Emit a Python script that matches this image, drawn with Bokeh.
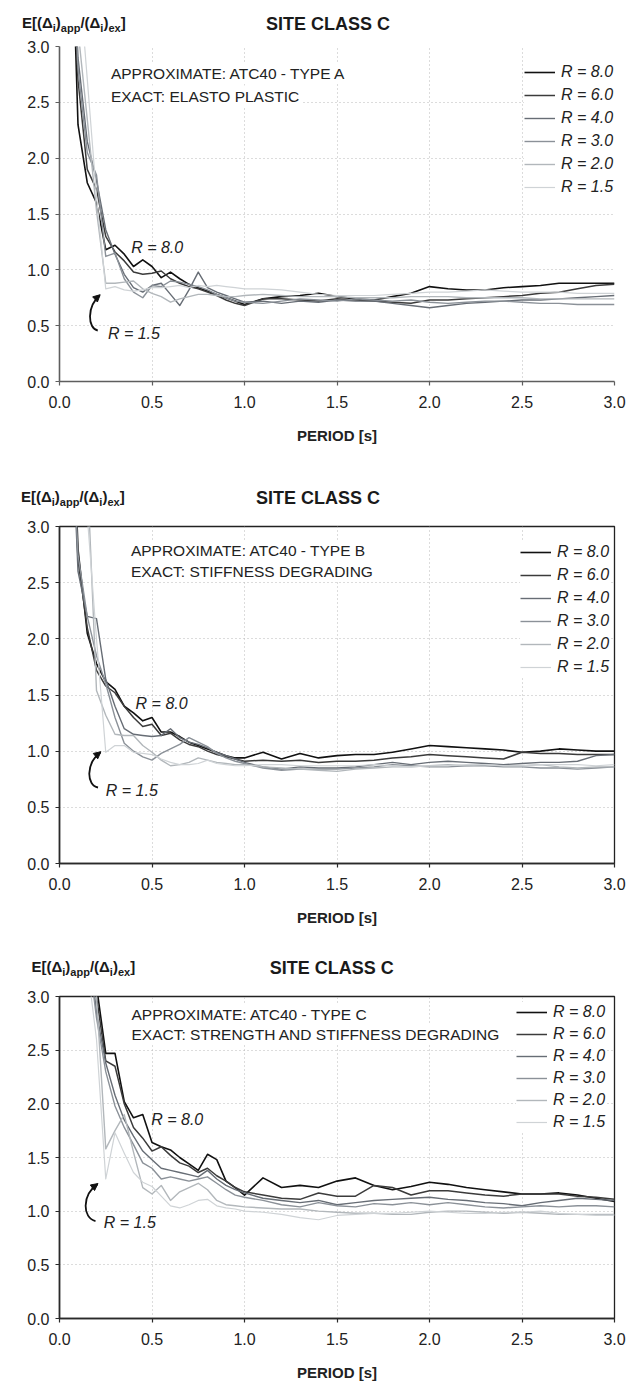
from bokeh.plotting import figure
from bokeh.layouts import column
from bokeh.models import (Range1d, FixedTicker, NumeralTickFormatter, Label, Arrow,
                          NormalHead, Legend, LegendItem, Div)
from bokeh.embed import file_html
from bokeh.resources import INLINE

FONT = "Liberation Sans"

# ---- data -------------------------------------------------------------
period = [0.05, 0.10, 0.15, 0.20, 0.25, 0.30, 0.35, 0.40, 0.45, 0.50,
          0.55, 0.60, 0.65, 0.70, 0.75, 0.80, 0.85, 0.90, 0.95, 1.00,
          1.1, 1.2, 1.3, 1.4, 1.5, 1.6, 1.7, 1.8, 1.9, 2.0,
          2.1, 2.2, 2.3, 2.4, 2.5, 2.6, 2.7, 2.8, 2.9, 3.0]

r_labels = ["R = 8.0", "R = 6.0", "R = 4.0", "R = 3.0", "R = 2.0", "R = 1.5"]

# ATC40 - Type A vs elasto-plastic
a_r80 = [5.0, 2.30, 1.78, 1.60, 1.18, 1.22, 1.14, 1.03, 1.09, 1.03, 0.93, 0.98, 0.92, 0.87, 0.84, 0.81, 0.78, 0.75, 0.72, 0.69,
         0.74, 0.76, 0.77, 0.79, 0.76, 0.74, 0.73, 0.76, 0.79, 0.85, 0.83, 0.82, 0.82, 0.84, 0.85, 0.86, 0.88, 0.88, 0.88, 0.88]
a_r60 = [4.6, 2.70, 1.90, 1.72, 1.30, 1.16, 1.08, 0.98, 0.96, 0.97, 0.99, 0.92, 0.88, 0.85, 0.83, 0.80, 0.77, 0.73, 0.70, 0.68,
         0.74, 0.74, 0.73, 0.72, 0.74, 0.73, 0.72, 0.71, 0.70, 0.73, 0.73, 0.74, 0.75, 0.76, 0.77, 0.79, 0.80, 0.83, 0.86, 0.87]
a_r40 = [4.8, 2.90, 2.15, 1.80, 1.36, 1.14, 0.96, 0.84, 0.80, 0.86, 0.88, 0.78, 0.68, 0.82, 0.98, 0.84, 0.80, 0.77, 0.74, 0.71,
         0.72, 0.70, 0.72, 0.71, 0.73, 0.72, 0.72, 0.70, 0.68, 0.66, 0.68, 0.70, 0.71, 0.72, 0.73, 0.73, 0.74, 0.75, 0.76, 0.77]
a_r30 = [4.7, 2.80, 2.05, 1.85, 1.12, 1.15, 0.92, 0.80, 0.75, 0.86, 0.85, 0.90, 0.89, 0.87, 0.85, 0.82, 0.78, 0.75, 0.72, 0.71,
         0.70, 0.72, 0.74, 0.73, 0.72, 0.74, 0.73, 0.72, 0.73, 0.71, 0.70, 0.71, 0.72, 0.72, 0.71, 0.70, 0.70, 0.69, 0.69, 0.69]
a_r20 = [4.0, 3.15, 2.35, 1.53, 0.88, 0.88, 0.89, 0.90, 0.83, 0.79, 0.76, 0.71, 0.74, 0.76, 0.78, 0.78, 0.77, 0.76, 0.76, 0.77,
         0.78, 0.77, 0.76, 0.76, 0.76, 0.75, 0.75, 0.75, 0.76, 0.76, 0.76, 0.75, 0.75, 0.75, 0.75, 0.74, 0.74, 0.74, 0.74, 0.74]
a_r15 = [4.8, 3.75, 2.71, 1.66, 0.83, 0.85, 0.82, 0.81, 0.82, 0.84, 0.84, 0.85, 0.86, 0.84, 0.86, 0.85, 0.86, 0.85, 0.84, 0.83,
         0.83, 0.82, 0.80, 0.78, 0.77, 0.77, 0.77, 0.78, 0.79, 0.80, 0.80, 0.81, 0.82, 0.81, 0.80, 0.80, 0.80, 0.79, 0.79, 0.79]

# ATC40 - Type B vs stiffness degrading
b_r80 = [5.0, 2.80, 2.05, 1.78, 1.62, 1.55, 1.40, 1.34, 1.27, 1.30, 1.17, 1.17, 1.13, 1.08, 1.05, 1.02, 0.99, 0.96, 0.94, 0.94,
         0.99, 0.93, 0.98, 0.94, 0.96, 0.97, 0.97, 0.99, 1.02, 1.05, 1.04, 1.03, 1.02, 1.01, 0.99, 1.00, 1.02, 1.01, 1.00, 1.00]
b_r60 = [4.8, 2.70, 2.10, 1.72, 1.58, 1.52, 1.40, 1.30, 1.22, 1.24, 1.14, 1.16, 1.10, 1.06, 1.04, 1.00, 0.97, 0.95, 0.93, 0.91,
         0.92, 0.91, 0.92, 0.90, 0.91, 0.91, 0.92, 0.94, 0.95, 0.97, 0.96, 0.95, 0.94, 0.93, 0.99, 0.98, 0.98, 0.97, 0.97, 0.97]
b_r40 = [4.6, 2.60, 2.20, 2.18, 1.64, 1.40, 1.20, 1.15, 1.14, 1.13, 1.14, 1.20, 1.12, 1.08, 1.06, 1.03, 0.99, 0.96, 0.93, 0.90,
         0.86, 0.84, 0.86, 0.85, 0.85, 0.86, 0.88, 0.90, 0.88, 0.90, 0.91, 0.90, 0.89, 0.88, 0.89, 0.90, 0.90, 0.91, 0.96, 0.97]
b_r30 = [4.5, 2.75, 2.20, 1.85, 1.60, 1.30, 1.07, 1.00, 0.95, 0.92, 0.98, 1.02, 1.06, 1.12, 1.08, 1.04, 0.98, 0.94, 0.91, 0.89,
         0.85, 0.83, 0.84, 0.84, 0.84, 0.85, 0.86, 0.88, 0.87, 0.86, 0.86, 0.87, 0.87, 0.86, 0.86, 0.85, 0.85, 0.84, 0.85, 0.86]
b_r20 = [5.0, 4.50, 3.50, 1.54, 1.32, 1.15, 1.14, 1.14, 1.05, 0.99, 0.92, 0.87, 0.88, 0.90, 0.94, 0.92, 0.90, 0.89, 0.88, 0.88,
         0.86, 0.85, 0.84, 0.83, 0.82, 0.84, 0.85, 0.86, 0.86, 0.87, 0.88, 0.87, 0.88, 0.87, 0.87, 0.88, 0.86, 0.85, 0.86, 0.86]
b_r15 = [5.0, 4.20, 3.10, 2.00, 0.99, 1.05, 1.05, 0.99, 0.98, 0.97, 0.93, 0.90, 0.88, 0.88, 0.89, 0.92, 0.89, 0.88, 0.87, 0.87,
         0.88, 0.88, 0.87, 0.87, 0.87, 0.87, 0.88, 0.87, 0.86, 0.87, 0.87, 0.88, 0.88, 0.87, 0.87, 0.88, 0.88, 0.88, 0.87, 0.88]

# ATC40 - Type C vs strength and stiffness degrading
c_r80 = [6.0, 5.0, 4.0, 3.10, 2.47, 2.47, 2.02, 1.87, 1.90, 1.64, 1.60, 1.57, 1.50, 1.44, 1.38, 1.53, 1.48, 1.28, 1.22, 1.15,
         1.31, 1.22, 1.24, 1.22, 1.28, 1.31, 1.24, 1.20, 1.23, 1.27, 1.25, 1.22, 1.20, 1.18, 1.16, 1.16, 1.17, 1.15, 1.12, 1.09]
c_r60 = [6.0, 5.0, 3.9, 3.00, 2.40, 2.35, 2.00, 1.78, 1.68, 1.56, 1.60, 1.52, 1.45, 1.42, 1.36, 1.40, 1.33, 1.28, 1.22, 1.18,
         1.15, 1.12, 1.11, 1.17, 1.14, 1.14, 1.24, 1.22, 1.15, 1.19, 1.19, 1.17, 1.15, 1.14, 1.16, 1.16, 1.16, 1.14, 1.13, 1.11]
c_r40 = [6.0, 4.8, 3.6, 2.85, 2.38, 2.08, 1.85, 1.70, 1.56, 1.48, 1.40, 1.38, 1.36, 1.34, 1.32, 1.38, 1.30, 1.24, 1.20, 1.17,
         1.12, 1.10, 1.08, 1.10, 1.06, 1.08, 1.10, 1.11, 1.12, 1.13, 1.11, 1.10, 1.08, 1.07, 1.05, 1.08, 1.10, 1.12, 1.11, 1.10]
c_r30 = [6.0, 4.7, 3.5, 2.80, 2.30, 1.98, 1.78, 1.62, 1.45, 1.40, 1.30, 1.32, 1.30, 1.28, 1.30, 1.32, 1.26, 1.20, 1.15, 1.13,
         1.10, 1.06, 1.04, 1.08, 1.05, 1.04, 1.07, 1.06, 1.08, 1.06, 1.08, 1.06, 1.04, 1.03, 1.04, 1.05, 1.04, 1.05, 1.05, 1.04]
c_r20 = [6.0, 5.0, 4.0, 3.00, 1.58, 1.75, 1.90, 1.55, 1.22, 1.16, 1.24, 1.10, 1.18, 1.22, 1.26, 1.20, 1.10, 1.06, 1.05, 1.04,
         1.03, 1.02, 1.02, 1.00, 0.99, 0.98, 0.98, 0.97, 0.97, 0.99, 1.00, 1.00, 0.99, 0.98, 0.99, 0.98, 0.97, 0.97, 0.97, 0.97]
c_r15 = [5.5, 4.4, 3.3, 2.60, 1.30, 1.73, 1.54, 1.36, 1.27, 1.23, 1.14, 1.05, 1.03, 1.06, 1.10, 1.11, 1.05, 1.03, 1.02, 1.00,
         0.99, 0.97, 0.94, 0.92, 0.96, 0.97, 0.98, 0.98, 0.99, 1.00, 0.99, 0.98, 0.98, 0.99, 0.99, 1.00, 0.98, 0.97, 0.96, 0.96]

line_colors = ["#111111", "#3b3b3b", "#676d75", "#8b9198", "#b2b7bb", "#cfd3d6"]
line_widths = [1.6, 1.5, 1.4, 1.4, 1.4, 1.2]

ticks = [0.0, 0.5, 1.0, 1.5, 2.0, 2.5, 3.0]

# Page-pixel layout of each panel: header strip, frame edges, notes, legend, arrow
panels = [
    dict(series=[a_r80, a_r60, a_r40, a_r30, a_r20, a_r15],
         approx="APPROXIMATE: ATC40 - TYPE A", exact="EXACT: ELASTO PLASTIC",
         head_top=0, head_h=34, height=421, left=51, fw=573, top=46, fh=335,
         boxed=False, axis_color="#5e5e5e",
         title_x=328, head_y=23.5, ylab_x=22, note_x=102, note_y=(72.5, 95.5),
         legend_x=520, legend_y0=68.5, spacing=3,
         r8=(125, 247), r15=(101, 332.5),
         arrow=[(90.5, 330), (80, 328), (79, 306), (92.5, 295)]),
    dict(series=[b_r80, b_r60, b_r40, b_r30, b_r20, b_r15],
         approx="APPROXIMATE: ATC40 - TYPE B", exact="EXACT: STIFFNESS DEGRADING",
         head_top=455, head_h=59, height=421, left=49, fw=576, top=526, fh=337,
         boxed=True, axis_color="#2a2a2a",
         title_x=318, head_y=497.5, ylab_x=21, note_x=121, note_y=(550, 571),
         legend_x=514, legend_y0=548.5, spacing=3,
         r8=(128, 702.7), r15=(97, 790),
         arrow=[(89, 787), (77, 785), (76, 763), (91.5, 752)]),
    dict(series=[c_r80, c_r60, c_r40, c_r30, c_r20, c_r15],
         approx="APPROXIMATE: ATC40 - TYPE C", exact="EXACT: STRENGTH AND STIFFNESS DEGRADING",
         head_top=935, head_h=49, height=399, left=59, fw=555, top=996, fh=324,
         boxed=True, axis_color="#2a2a2a",
         title_x=331.7, head_y=967.5, ylab_x=31.5, note_x=129, note_y=(1014, 1034),
         legend_x=520, legend_y0=1010.5, spacing=2,
         r8=(150.7, 1120), r15=(103.3, 1223),
         arrow=[(95, 1222), (82, 1219), (81, 1196), (97, 1185)]),
]


def header(cfg):
    """Title and ordinate caption (with subscripts) drawn above each frame."""
    yc = cfg["head_y"] - cfg["head_top"]
    sub = "font-size:11px;position:relative;top:4px;"
    caption = (f'E[(Δ<span style="{sub}">i</span>)<span style="{sub}">app</span>'
               f'/(Δ<span style="{sub}">i</span>)<span style="{sub}">ex</span>]')
    html = (
        f'<div style="position:relative;width:642px;height:{cfg["head_h"]}px;'
        f"font-family:'{FONT}',sans-serif;font-weight:bold;color:#1a1a1a;\">"
        f'<span style="position:absolute;left:{cfg["ylab_x"]}px;top:{yc - 10}px;'
        f'font-size:15px;line-height:18px;white-space:nowrap;">{caption}</span>'
        f'<span style="position:absolute;left:{cfg["title_x"] - 120}px;width:240px;'
        f'text-align:center;top:{yc - 10}px;font-size:18px;line-height:20px;'
        f'white-space:nowrap;">SITE CLASS C</span></div>'
    )
    return Div(text=html, width=642, height=cfg["head_h"], margin=(0, 0, 0, 0))


def build(cfg):
    left, fw, top, fh = cfg["left"], cfg["fw"], cfg["top"], cfg["fh"]
    fig_top = cfg["head_top"] + cfg["head_h"]
    height = cfg["height"]

    def dx(px):
        return (px - left) * 3.0 / fw

    def dy(py):
        return 3.0 - (py - top) * 3.0 / fh

    border_top = top - fig_top
    p = figure(width=642, height=height, output_backend="svg", toolbar_location=None,
               x_range=Range1d(0, 3), y_range=Range1d(0, 3),
               min_border_left=left, min_border_right=642 - left - fw,
               min_border_top=border_top, min_border_bottom=height - border_top - fh,
               margin=(0, 0, 0, 0))
    p.background_fill_color = "white"
    p.border_fill_color = "white"
    p.outline_line_color = "#222222" if cfg["boxed"] else None
    p.outline_line_width = 1.3

    for ax in (p.xaxis[0], p.yaxis[0]):
        ax.ticker = FixedTicker(ticks=ticks)
        ax.formatter = NumeralTickFormatter(format="0.0")
        ax.axis_line_color = cfg["axis_color"]
        ax.axis_line_width = 1.6
        ax.major_tick_line_color = cfg["axis_color"]
        ax.major_tick_line_width = 1.2
        ax.major_tick_in = 0
        ax.major_tick_out = 4
        ax.minor_tick_line_color = None
        ax.major_label_text_font = FONT
        ax.major_label_text_font_size = "16px"
        ax.major_label_text_color = "#222222"
    p.xaxis.major_label_standoff = 10
    p.yaxis.major_label_standoff = 6
    p.xaxis.axis_label = "PERIOD [s]"
    p.xaxis.axis_label_text_font = FONT
    p.xaxis.axis_label_text_font_size = "15px"
    p.xaxis.axis_label_text_font_style = "bold"
    p.xaxis.axis_label_text_color = "#222222"
    p.xaxis.axis_label_standoff = 16

    p.grid.grid_line_color = "#b8b8b8"
    p.grid.grid_line_dash = "1 3"
    p.grid.grid_line_width = 1

    renderers = []
    for vals, col, lw in zip(cfg["series"], line_colors, line_widths):
        r = p.line(period, vals, line_color=col, line_width=lw, line_join="round")
        renderers.append(r)

    # method notes
    for txt, yy in zip((cfg["approx"], cfg["exact"]), cfg["note_y"]):
        p.add_layout(Label(x=dx(cfg["note_x"]), y=dy(yy), text=txt, text_font=FONT,
                           text_font_size="15.5px", text_color="#222222", text_align="left",
                           text_baseline="middle", background_fill_color="white",
                           background_fill_alpha=1.0, padding=2))

    # callouts for the strongest and weakest systems
    for txt, (px, py) in (("R = 8.0", cfg["r8"]), ("R = 1.5", cfg["r15"])):
        p.add_layout(Label(x=dx(px), y=dy(py), text=txt, text_font=FONT, text_font_size="16px",
                           text_font_style="italic", text_color="#222222", text_align="left",
                           text_baseline="middle"))
    (sx, sy), (c1x, c1y), (c2x, c2y), (ex, ey) = cfg["arrow"]
    p.bezier(x0=[dx(sx)], y0=[dy(sy)], x1=[dx(ex)], y1=[dy(ey)],
             cx0=[dx(c1x)], cy0=[dy(c1y)], cx1=[dx(c2x)], cy1=[dy(c2y)],
             line_color="#111111", line_width=1.8)
    p.add_layout(Arrow(end=NormalHead(size=7, line_color="#111111", fill_color="#111111"),
                       x_start=dx((c2x + 2 * ex) / 3), y_start=dy((c2y + 2 * ey) / 3),
                       x_end=dx(ex + 0.5), y_end=dy(ey - 0.8),
                       line_color="#111111", line_width=1.8))

    # legend
    pad = 4
    pitch = 20 + cfg["spacing"]
    legend_bottom = cfg["legend_y0"] + 5 * pitch + 10
    items = [LegendItem(label=lab, renderers=[r]) for lab, r in zip(r_labels, renderers)]
    legend = Legend(items=items,
                    location=(cfg["legend_x"] - left - pad, round((top + fh) - legend_bottom - pad)),
                    orientation="vertical", padding=pad, margin=0, spacing=cfg["spacing"],
                    glyph_width=31, glyph_height=20, label_height=20, label_standoff=6,
                    label_text_font=FONT, label_text_font_size="16px",
                    label_text_font_style="italic", label_text_color="#222222",
                    background_fill_color="white", background_fill_alpha=1.0,
                    border_line_color=None)
    p.add_layout(legend)
    return p


parts = []
for cfg in panels:
    parts.append(header(cfg))
    parts.append(build(cfg))
layout = column(*parts, spacing=0)

open("out.html", "w").write(file_html(layout, INLINE))
